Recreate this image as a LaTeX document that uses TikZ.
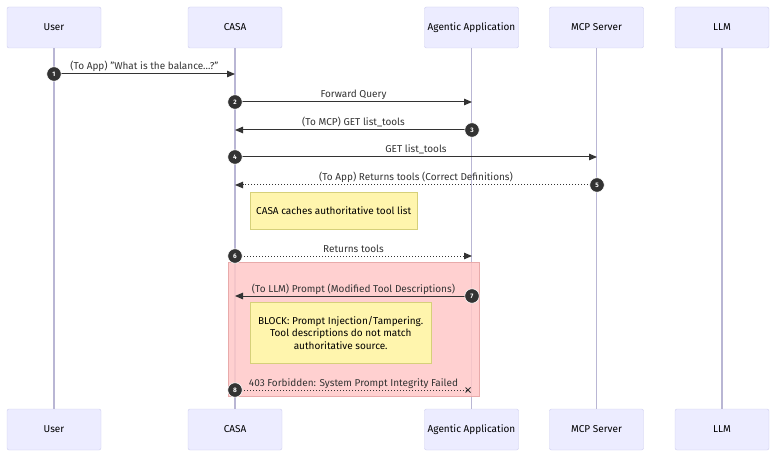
\documentclass[tikz,border=0pt]{standalone}
\usepackage{fontspec}
\setmainfont{Fira Sans}
\usetikzlibrary{arrows.meta}
\definecolor{actfill}{HTML}{ECECFF}
\definecolor{actdraw}{HTML}{CCCCEE}
\definecolor{lifec}{HTML}{B9B6D4}
\definecolor{msgc}{HTML}{333333}
\definecolor{notefill}{HTML}{FFF5AD}
\definecolor{notedraw}{HTML}{D6D07A}
\definecolor{blockfill}{HTML}{FFC8C8}
\definecolor{blockdraw}{HTML}{E8AAAA}
\tikzset{
  actor/.style={draw=actdraw, fill=actfill, rounded corners=2pt, minimum width=94pt, minimum height=41pt, inner sep=0pt, font=\fontsize{10}{12}\selectfont, text=black},
  lifeline/.style={draw=lifec, line width=1.4pt},
  msg/.style={draw=msgc, line width=1pt, -{Triangle[length=8pt,width=6.5pt]}},
  reply/.style={draw=msgc, line width=1pt, dotted, -{Triangle[length=8pt,width=6.5pt]}},
  crossmsg/.style={draw=msgc, line width=1pt, dotted},
  mlabel/.style={font=\fontsize{10}{12}\selectfont, text=msgc, inner sep=0pt, anchor=base},
  num/.style={circle, fill=msgc, draw=white, line width=0.6pt, minimum size=14.5pt, inner sep=0pt, text=white, font=\fontsize{6.5}{7}\selectfont\bfseries},
  note/.style={draw=notedraw, fill=notefill, inner sep=0pt, font=\fontsize{10}{12.5}\selectfont, text=black, align=center, anchor=north west},
}
\begin{document}
\begin{tikzpicture}[x=1pt,y=-1pt]
\useasboundingbox (0,0) rectangle (776,457);
% actors top
\node[actor] (uT) at (54,27.5) {User};
\node[actor] (cT) at (235,27.5) {CASA};
\node[actor] (aT) at (471.5,27.5) {Agentic Application};
\node[actor] (mT) at (596.5,27.5) {MCP Server};
\node[actor] (lT) at (722,27.5) {LLM};
% actors bottom
\node[actor] (uB) at (54,429.5) {User};
\node[actor] (cB) at (235,429.5) {CASA};
\node[actor] (aB) at (471.5,429.5) {Agentic Application};
\node[actor] (mB) at (596.5,429.5) {MCP Server};
\node[actor] (lB) at (722,429.5) {LLM};
% lifelines
\draw[lifeline] (uT.south) -- (uB.north);
\draw[lifeline] (cT.south) -- (cB.north);
\draw[lifeline] (aT.south) -- (aB.north);
\draw[lifeline] (mT.south) -- (mB.north);
\draw[lifeline] (lT.south) -- (lB.north);
% block region
\node[draw=blockdraw, fill=blockfill, fill opacity=0.85, line width=0.6pt, minimum width=251pt, minimum height=134pt, inner sep=0pt, anchor=north west] (blk) at (228,262) {};
% coordinates
\coordinate (u1) at (54,74);   \coordinate (c1) at (235,74);
\coordinate (c2) at (235,102); \coordinate (a2) at (472,102);
\coordinate (a3) at (472,130); \coordinate (c3) at (235,130);
\coordinate (c4) at (235,157); \coordinate (m4) at (597,157);
\coordinate (m5) at (597,185); \coordinate (c5) at (235,185);
\coordinate (c6) at (235,256); \coordinate (a6) at (472,256);
\coordinate (a7) at (472,296); \coordinate (c7) at (235,296);
\coordinate (c8) at (235,390); \coordinate (a8) at (468,390);
% messages
\draw[msg] (u1) -- (c1);
\node[mlabel] (t1) at (144.5,70) {(To App) \char"0022 What is the balance.\kern0pt.\kern0pt.?\char"0022};
\draw[msg] (c2) -- (a2);
\node[mlabel] (t2) at (353.5,98) {Forward Query};
\draw[msg] (a3) -- (c3);
\node[mlabel] (t3) at (353.5,126) {(To MCP) GET list\_tools};
\draw[msg] (c4) -- (m4);
\node[mlabel] (t4) at (416,153) {GET list\_tools};
\draw[reply] (m5) -- (c5);
\node[mlabel] (t5) at (416,181) {(To App) Returns tools (Correct Definitions)};
\node[note, minimum width=167pt, minimum height=37pt] (n1) at (250,192) {CASA caches authoritative tool list};
\draw[reply] (c6) -- (a6);
\node[mlabel] (t6) at (353.5,252) {Returns tools};
\draw[msg] (a7) -- (c7);
\node[mlabel] (t7) at (353.5,292) {(To LLM) Prompt (Modified Tool Descriptions)};
\node[note, minimum width=181pt, minimum height=61pt] (n2) at (250,302) {BLOCK: Prompt Injection/Tampering.\\Tool descriptions do not match\\authoritative source.};
\draw[crossmsg] (c8) -- (a8);
\draw[msgc, line width=1pt] ([shift={(-2.5,-2.5)}]a8) -- ([shift={(2.5,2.5)}]a8);
\draw[msgc, line width=1pt] ([shift={(-2.5,2.5)}]a8) -- ([shift={(2.5,-2.5)}]a8);
\node[mlabel] (t8) at (353.5,386) {403 Forbidden: System Prompt Integrity Failed};
% numbers
\node[num] (k1) at (u1) {1};
\node[num] (k2) at (c2) {2};
\node[num] (k3) at (a3) {3};
\node[num] (k4) at (c4) {4};
\node[num] (k5) at (m5) {5};
\node[num] (k6) at (c6) {6};
\node[num] (k7) at (a7) {7};
\node[num] (k8) at (c8) {8};
\end{tikzpicture}
\end{document}
